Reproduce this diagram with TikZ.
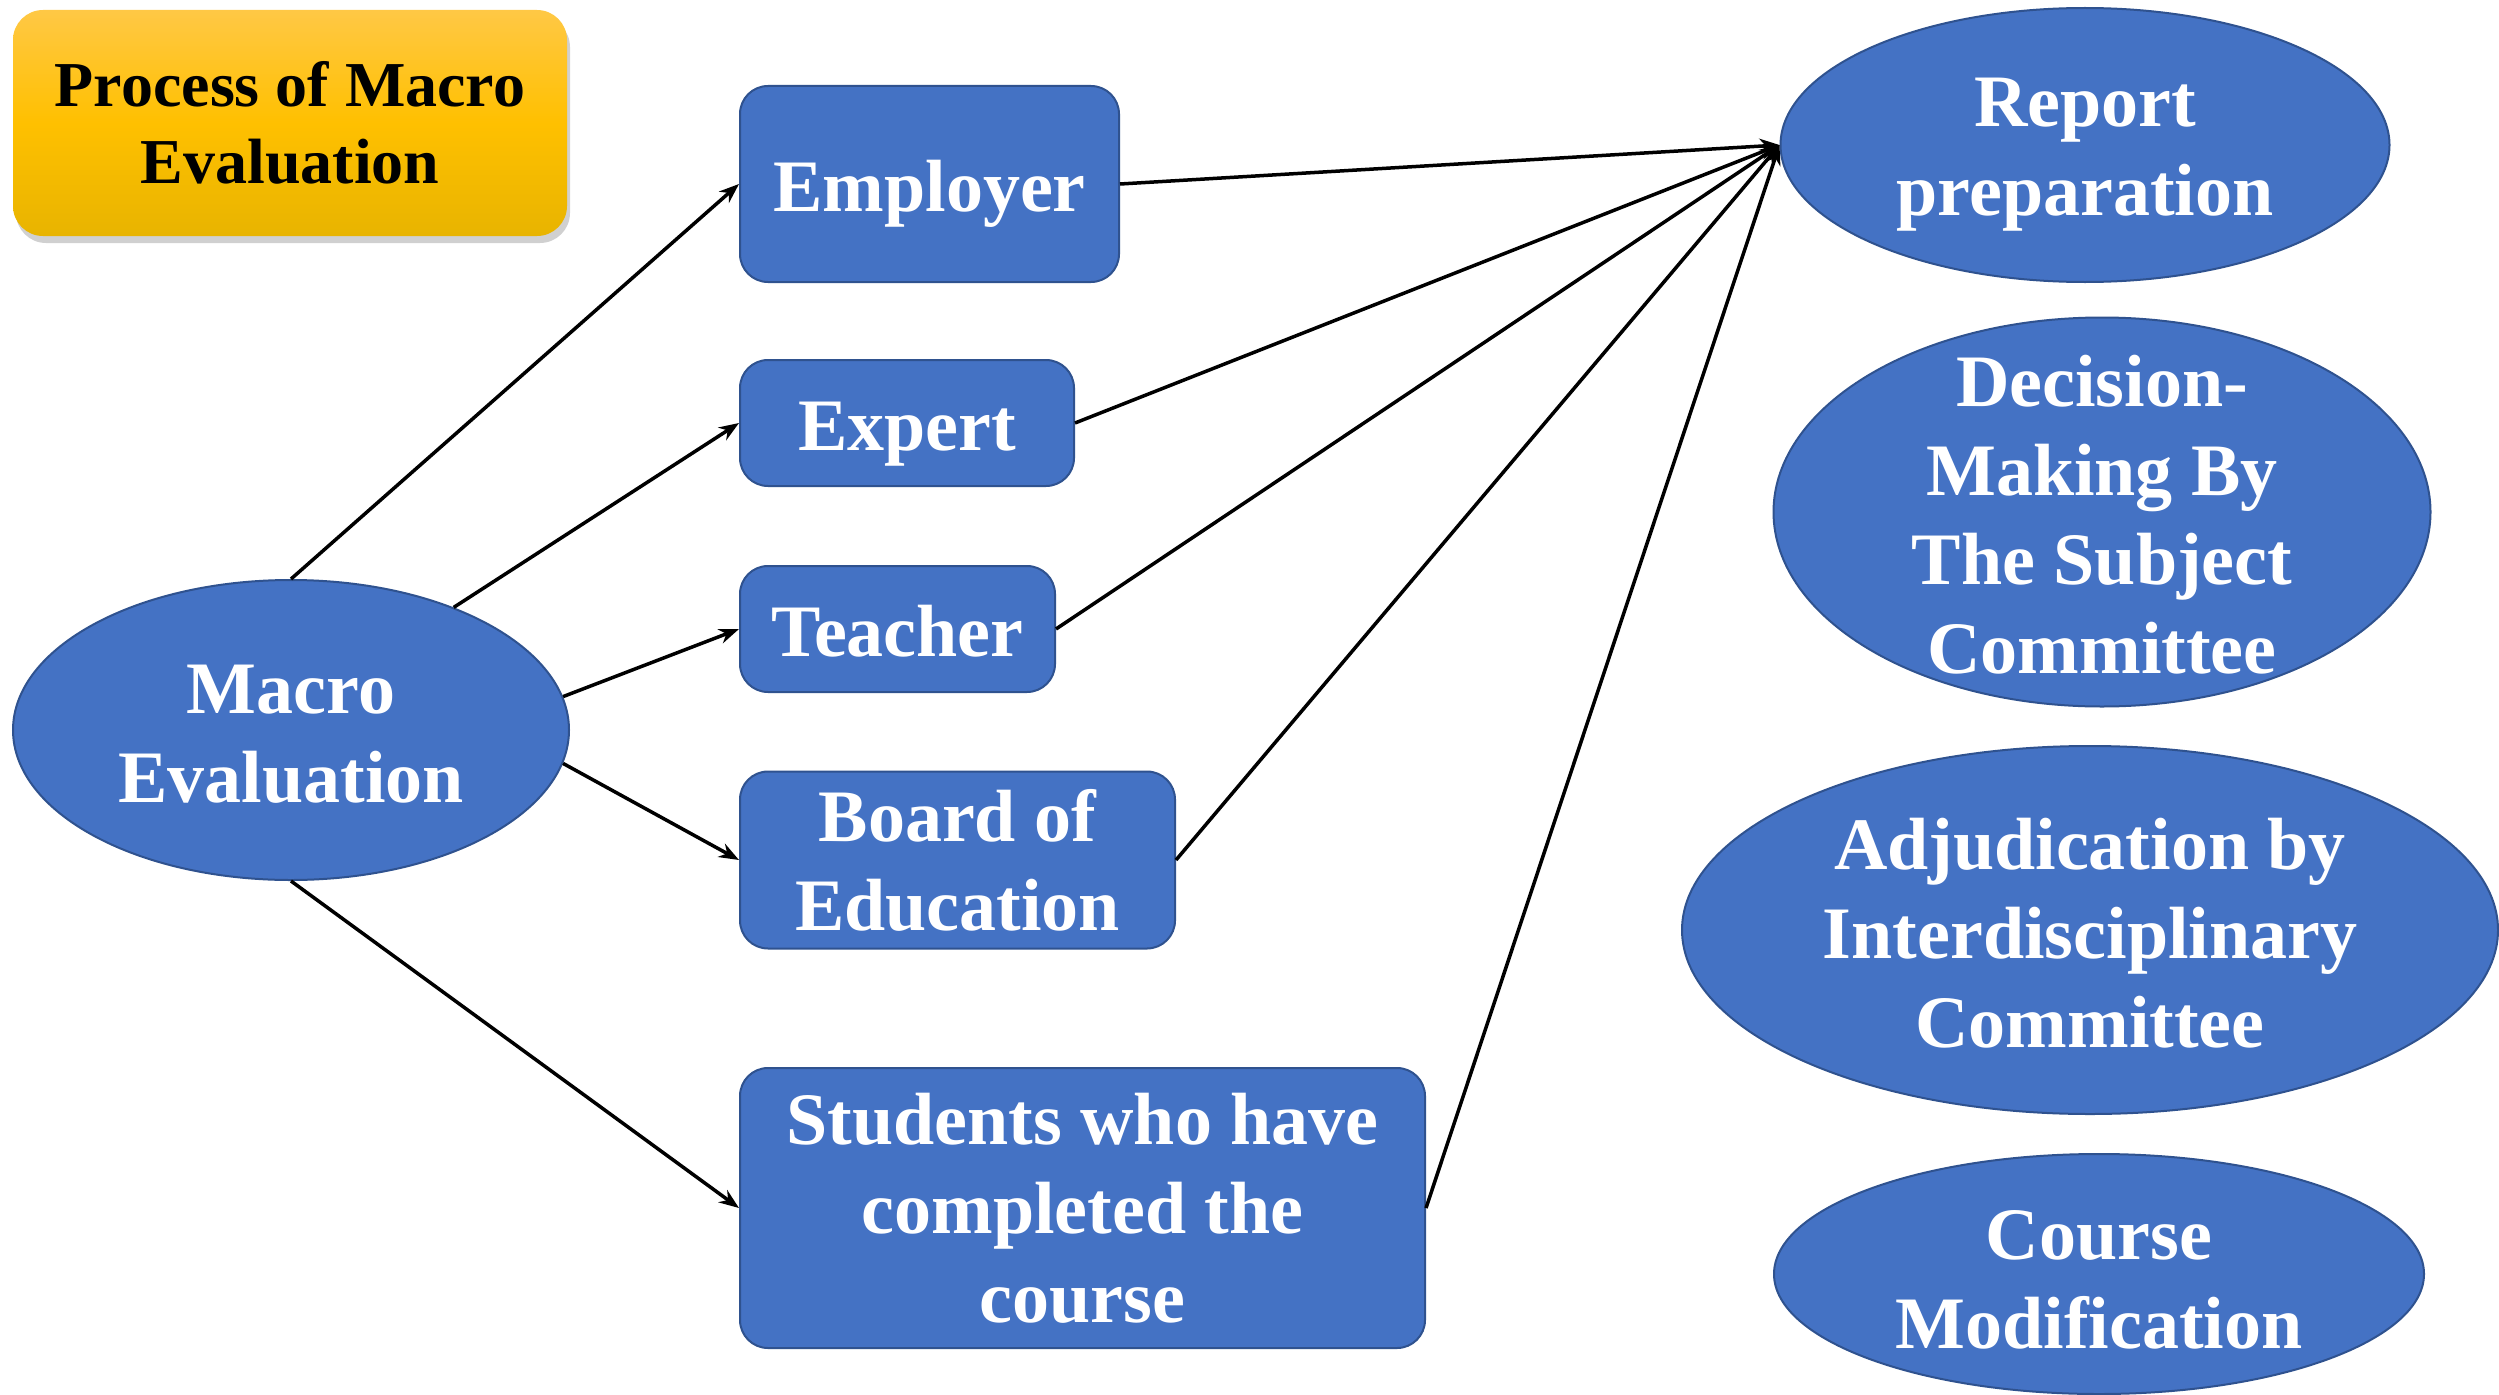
\documentclass[tikz,border=0pt]{standalone}
\usepackage{fontspec}
\setmainfont{Liberation Serif}
\usetikzlibrary{shapes.geometric,arrows.meta,shadows}
\definecolor{nodeblue}{HTML}{4472C4}
\definecolor{nodeedge}{HTML}{2F528F}
\definecolor{goldtop}{HTML}{FFC845}
\definecolor{goldmid}{HTML}{FFC000}
\definecolor{goldbot}{HTML}{E8B400}
\begin{document}
\begin{tikzpicture}[x=1pt,y=1pt,
  bluebox/.style={draw=nodeedge,line width=2pt,fill=nodeblue,rounded corners=28pt,
    text=white,font=\bfseries\fontsize{74}{89}\selectfont,align=center,inner sep=0pt},
  oneline/.style={text height=56pt,text depth=2pt},
  blueell/.style={ellipse,draw=nodeedge,line width=2pt,fill=nodeblue,inner sep=0pt},
  elltext/.style={text=white,font=\bfseries\fontsize{74}{89}\selectfont,align=center,inner sep=0pt},
  conn/.style={line width=3.5pt,-{Stealth[length=20pt,width=15pt]}}
]
\useasboundingbox (0,0) rectangle (2499,-1394);
\fill[white] (0,0) rectangle (2499,-1394);

% title
\node[rounded corners=30pt,minimum width=554pt,minimum height=226pt,
  top color=goldtop,bottom color=goldbot,middle color=goldmid,
  drop shadow={shadow xshift=3pt,shadow yshift=-7pt,opacity=0.3,fill=black!60},
  font=\bfseries\fontsize{64}{77}\selectfont,align=center,inner sep=0pt] (title) at (290,-123)
  {Process of Macro\\Evaluation};

% source
\node[blueell,minimum width=556pt,minimum height=300pt] (macro) at (291,-730) {};
\node[elltext] at ([yshift=-4pt]macro.center) {Macro\\Evaluation};

% middle boxes
\node[bluebox,oneline,minimum width=379pt,minimum height=196pt] (employer) at (929.5,-184) {Employer};
\node[bluebox,oneline,minimum width=334pt,minimum height=126pt] (expert) at (907,-423) {Expert};
\node[bluebox,oneline,minimum width=315pt,minimum height=126pt] (teacher) at (897.5,-629) {Teacher};
\node[bluebox,minimum width=435pt,minimum height=177pt] (board) at (957.5,-860) {Board of\\Education};
\node[bluebox,minimum width=685pt,minimum height=280pt] (students) at (1082.5,-1208) {Students who have\\completed the\\course};

% right ellipses
\node[blueell,minimum width=609pt,minimum height=274pt] (report) at (2085,-145) {};
\node[elltext] at ([yshift=-10pt]report.center) {Report\\preparation};
\node[blueell,minimum width=657pt,minimum height=389pt] (decision) at (2102,-512) {};
\node[elltext] at ([yshift=-3pt]decision.center) {Decision-\\Making By\\The Subject\\Committee};
\node[blueell,minimum width=816pt,minimum height=368pt] (adjud) at (2090,-930) {};
\node[elltext] at ([yshift=-3pt]adjud.center) {Adjudication by\\Interdisciplinary\\Committee};
\node[blueell,minimum width=650pt,minimum height=240pt] (course) at (2099,-1274) {};
\node[elltext] at ([yshift=-6pt]course.center) {Course\\Modification};

% connectors
\draw[conn] (macro.north) -- (employer.west);
\draw[conn] (macro.37) -- (expert.west);
\draw[conn] (macro.7) -- (teacher.west);
\draw[conn] (macro.-7) -- (board.west);
\draw[conn] (macro.south) -- (students.west);

\draw[conn] (employer.east) -- (report.west);
\draw[conn] (expert.east) -- (report.west);
\draw[conn] (teacher.east) -- (report.west);
\draw[conn] (board.east) -- (report.west);
\draw[conn] (students.east) -- (report.west);
\end{tikzpicture}
\end{document}
